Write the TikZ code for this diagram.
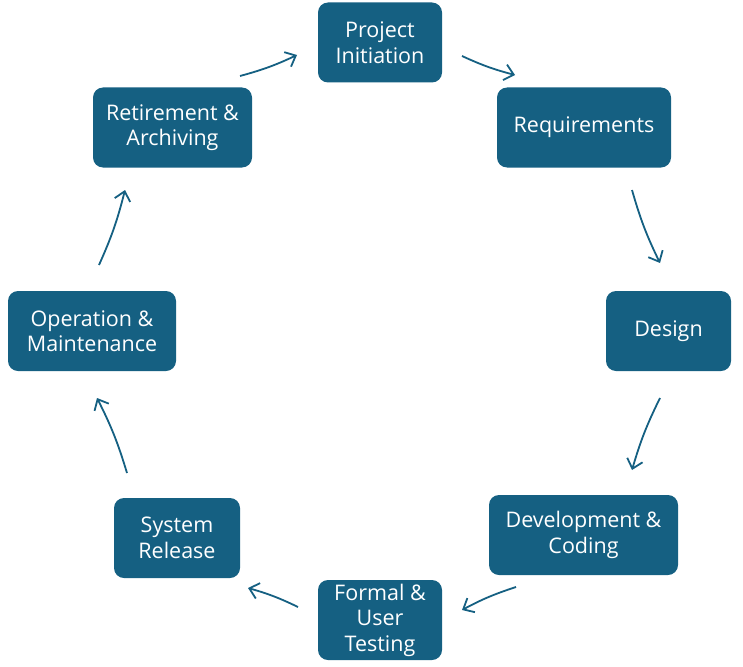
\documentclass[tikz,border=0pt]{standalone}
\usepackage{fontspec}
\setmainfont{Open Sans}
\usetikzlibrary{arrows.meta,positioning}
\definecolor{stagecol}{HTML}{156082}

\begin{document}
\begin{tikzpicture}[x=1pt,y=-1pt,
  stage/.style={fill=stagecol, rounded corners=10pt, text=white,
    font=\fontsize{21.5}{25.5}\selectfont, align=center,
    minimum height=80pt, inner sep=0pt},
  flow/.style={draw=stagecol, line width=1.8pt,
    -{Straight Barb[length=9pt,width=16pt]}}]

  \useasboundingbox (0,0) rectangle (743,666);

  % stages of the cycle
  \node[stage, minimum width=124pt] (init) at (380,42.5) {Project\\Initiation};
  \node[stage, minimum width=174pt] (req) at (584,127.5) {Requirements};
  \node[stage, minimum width=125pt] (design) at (668.5,331) {Design};
  \node[stage, minimum width=189pt] (dev) at (583.5,535) {Development \&\\Coding};
  \node[stage, minimum width=124pt] (test) at (380,620) {Formal \&\\User\\Testing};
  \node[stage, minimum width=126pt] (release) at (177,538) {System\\Release};
  \node[stage, minimum width=168pt] (ops) at (92,331) {Operation \&\\Maintenance};
  \node[stage, minimum width=159pt] (retire) at (172.5,127.5) {Retirement \&\\Archiving};

  % arrow ends
  \coordinate (retire-out) at (240,76);  \coordinate (init-in) at (297,55);
  \coordinate (init-out) at (462,56);    \coordinate (req-in) at (515,75);
  \coordinate (req-out) at (632,190);    \coordinate (design-in) at (660,263);
  \coordinate (design-out) at (660,398); \coordinate (dev-in) at (632,470);
  \coordinate (dev-out) at (516,587);    \coordinate (test-in) at (462,610);
  \coordinate (test-out) at (298,607);   \coordinate (release-in) at (248,588);
  \coordinate (release-out) at (127,473);\coordinate (ops-in) at (97,398);
  \coordinate (ops-out) at (99,265);     \coordinate (retire-in) at (125,190);

  % arrows round the cycle
  \draw[flow] (retire-out) to[bend right=5] (init-in);
  \draw[flow] (init-out) to[bend right=5] (req-in);
  \draw[flow] (req-out) to[bend right=5] (design-in);
  \draw[flow] (design-out) to[bend right=5] (dev-in);
  \draw[flow] (dev-out) to[bend right=5] (test-in);
  \draw[flow] (test-out) to[bend right=5] (release-in);
  \draw[flow] (release-out) to[bend right=5] (ops-in);
  \draw[flow] (ops-out) to[bend right=5] (retire-in);
\end{tikzpicture}
\end{document}
